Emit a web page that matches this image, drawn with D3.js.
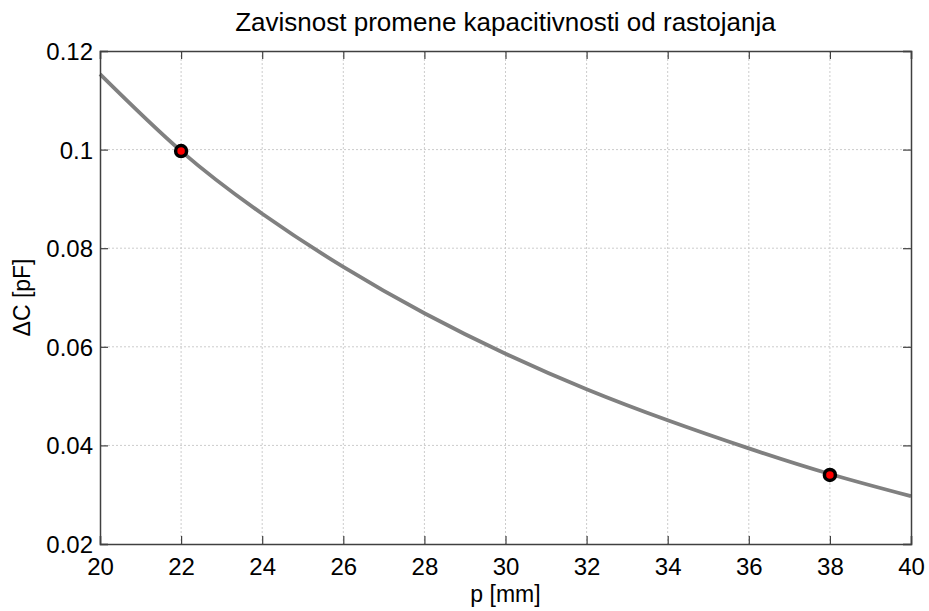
<!DOCTYPE html>
<html><head><meta charset="utf-8">
<script src="https://cdn.jsdelivr.net/npm/d3@7"></script>
<style>body{margin:0;background:#fff;}svg{display:block;font-family:"Liberation Sans",Arial,sans-serif;}</style>
</head><body><svg id="chart" width="929" height="611"></svg>
<script>
const curveX = [20, 22, 24, 26, 28, 30, 32, 34, 36, 38, 40];
const curveY = [0.1153, 0.0997, 0.0870, 0.0762, 0.0668, 0.0586, 0.0514, 0.0451, 0.0394, 0.0342, 0.0297];
const pointX = [22, 38];
const pointY = [0.0997, 0.0340];
const xTicks = [20, 22, 24, 26, 28, 30, 32, 34, 36, 38, 40];
const yTicks = [0.02, 0.04, 0.06, 0.08, 0.1, 0.12];
const yTickLabels = ["0.02", "0.04", "0.06", "0.08", "0.1", "0.12"];
const title = "Zavisnost promene kapacitivnosti od rastojanja";
const xLabel = "p [mm]";
const yLabel = "\u0394C [pF]";

(function () {
const svg = d3.select("#chart");
const L = 100, R = 911, T = 51, B = 544;
const x = d3.scaleLinear().domain([20, 40]).range([L, R]);
const y = d3.scaleLinear().domain([0.02, 0.12]).range([B, T]);

// grid
const g = svg.append("g");
g.selectAll(".gx").data(xTicks.slice(1, -1)).enter().append("line")
  .attr("x1", d => x(d)).attr("x2", d => x(d)).attr("y1", T).attr("y2", B)
  .attr("stroke", "#cccccc").attr("stroke-width", 1).attr("stroke-dasharray", "2,2");
g.selectAll(".gy").data(yTicks.slice(1, -1)).enter().append("line")
  .attr("y1", d => y(d)).attr("y2", d => y(d)).attr("x1", L).attr("x2", R)
  .attr("stroke", "#cccccc").attr("stroke-width", 1).attr("stroke-dasharray", "2,2");

// curve
const data = curveX.map((v, i) => [v, curveY[i]]);
svg.append("path").datum(data)
  .attr("d", d3.line().x(d => x(d[0])).y(d => y(d[1])).curve(d3.curveNatural))
  .attr("fill", "none").attr("stroke", "#808080").attr("stroke-width", 3.8);

// axes (ticks inward)
const axisColor = "#404040";
const axB = svg.append("g").attr("transform", `translate(0,${B})`)
  .call(d3.axisBottom(x).tickValues(xTicks).tickSize(-8).tickFormat(d3.format("d")));
const axL = svg.append("g").attr("transform", `translate(${L},0)`)
  .call(d3.axisLeft(y).tickValues(yTicks).tickSize(-8).tickFormat((d, i) => yTickLabels[i]));
const axT = svg.append("g").attr("transform", `translate(0,${T})`)
  .call(d3.axisTop(x).tickValues(xTicks).tickSize(-8).tickFormat(""));
const axR = svg.append("g").attr("transform", `translate(${R},0)`)
  .call(d3.axisRight(y).tickValues(yTicks).tickSize(-8).tickFormat(""));
[axB, axL, axT, axR].forEach(a => {
  a.select(".domain").attr("stroke", axisColor).attr("stroke-width", 1.5);
  a.selectAll(".tick line").attr("stroke", axisColor).attr("stroke-width", 1.2);
  a.selectAll(".tick text").attr("fill", "#000").style("font-size", "24px")
    .style("font-family", "'Liberation Sans', Arial, sans-serif");
});
axB.selectAll(".tick text").attr("dy", null).attr("y", 31);
axL.selectAll(".tick text").attr("dy", "0.35em").attr("x", -7);

// points
svg.selectAll(".pt").data(pointX.map((v, i) => [v, pointY[i]])).enter().append("circle")
  .attr("cx", d => x(d[0])).attr("cy", d => y(d[1])).attr("r", 5.5)
  .attr("fill", "#ff0000").attr("stroke", "#000").attr("stroke-width", 3.5);

// text
svg.append("text").attr("x", (L + R) / 2).attr("y", 31).attr("text-anchor", "middle")
  .style("font-size", "26px").text(title);
svg.append("text").attr("x", (L + R) / 2).attr("y", 602).attr("text-anchor", "middle")
  .style("font-size", "23px").text(xLabel);
svg.append("text").attr("transform", `translate(30,${(T + B) / 2}) rotate(-90)`).attr("text-anchor", "middle")
  .style("font-size", "23px").text(yLabel);
})();
</script></body></html>
